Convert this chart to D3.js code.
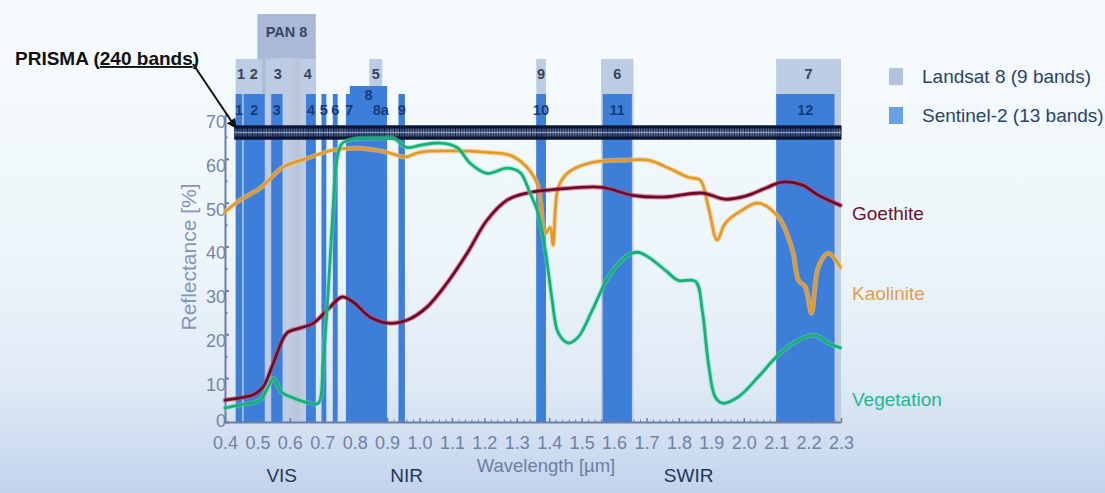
<!DOCTYPE html>
<html><head><meta charset="utf-8">
<script src="https://cdn.jsdelivr.net/npm/d3@7"></script>
<style>html,body{margin:0;padding:0;overflow:hidden;background:#eef6fb}</style>
</head><body><svg id="c" width="1105" height="493"></svg>
<script>
// ---------- DATA ----------
const xTicks = [0.4,0.5,0.6,0.7,0.8,0.9,1.0,1.1,1.2,1.3,1.4,1.5,1.6,1.7,1.8,1.9,2.0,2.1,2.2,2.3];
const yTicks = [0,10,20,30,40,50,60,70];

const goeWl  = [0.40,0.446,0.487,0.518,0.549,0.591,0.631,0.672,0.715,0.761,0.796,0.848,0.91,0.961,1.023,1.085,1.147,1.208,1.27,1.332,1.428,1.563,1.656,1.758,1.872,1.943,2.005,2.067,2.119,2.181,2.23,2.298];
const goeVal = [5.0,5.5,6.2,8,13.4,20.3,21.4,22.5,25.5,28.5,27.3,23.9,22.5,23.2,26.2,31.7,38.5,46,50.6,52.2,53.1,53.5,51.7,51.3,52.2,50.8,51.5,53.3,54.7,54,51.7,49.4];

const kaoWl  = [0.40,0.446,0.508,0.579,0.653,0.733,0.817,0.90,0.956,1.00,1.104,1.208,1.28,1.326,1.363,1.388,1.403,1.412,1.428,1.459,1.533,1.635,1.706,1.768,1.829,1.866,1.891,1.918,1.943,1.995,2.045,2.107,2.15,2.169,2.19,2.209,2.23,2.261,2.298];
const kaoVal = [47.9,50.6,53.3,58.1,60.1,62.0,62.4,61.5,60.4,61.5,61.8,61.5,60.8,58.5,54.4,43,44.4,40.3,53.5,56.9,59.2,59.7,59.7,57.9,55.8,55.1,49,41.5,45.3,48.3,49.9,46.7,39.2,32.3,30.8,24.8,35.3,38.5,35.3];

const vegWl  = [0.40,0.446,0.508,0.533,0.549,0.575,0.61,0.662,0.688,0.703,0.718,0.733,0.745,0.761,0.796,0.878,0.919,0.961,1.002,1.064,1.116,1.156,1.208,1.27,1.31,1.341,1.366,1.388,1.409,1.428,1.459,1.49,1.533,1.582,1.635,1.672,1.706,1.758,1.798,1.851,1.872,1.891,1.912,1.934,1.983,2.045,2.107,2.169,2.221,2.261,2.298];
const vegVal = [3.2,3.9,5,8,10,6.8,5.5,4.3,4.3,14.1,29.4,48.3,59.7,63.5,64.5,64.7,64.7,62.6,63.1,63.6,62.6,59,56.7,57.9,56.9,52.2,47.6,39.2,27.8,20.3,18,19.4,25.5,33,37.6,38.7,37.6,34.6,32.3,32.1,25.5,13.4,5.7,4.3,5.7,10.3,15.3,18.7,19.8,18,16.9];

const landsatLabels = ["1","2","3","4","5","9","6","7"];
const landsatStart  = [0.433,0.450,0.525,0.630,0.845,1.360,1.560,2.100];
const landsatEnd    = [0.453,0.515,0.600,0.680,0.885,1.390,1.660,2.300];
const panLabel = "PAN 8", panStart = 0.500, panEnd = 0.680;

const s2Labels = ["1","2","3","4","5","6","7","8","8a","9","10","11","12"];
const s2Start  = [0.433,0.4575,0.5425,0.650,0.6975,0.7325,0.773,0.785,0.855,0.935,1.360,1.565,2.100];
const s2End    = [0.453,0.5225,0.5775,0.680,0.7125,0.7475,0.793,0.900,0.875,0.955,1.390,1.655,2.280];

const prismaBands = 240, prismaStart = 0.43, prismaEnd = 2.30;
const prismaLow = 64.4, prismaHigh = 67.6;

const seriesNames = ["Goethite","Kaolinite","Vegetation"];
const legendNames = ["Landsat 8 (9 bands)","Sentinel-2 (13 bands)"];
const regionNames = ["VIS","NIR","SWIR"];
const regionCenters = [0.575, 0.96, 1.83];

// ---------- SETUP ----------
const FONT = "'Liberation Sans', Arial, sans-serif";
const svg = d3.select("#c");
const x = d3.scaleLinear().domain([0.4, 2.3]).range([225, 841]);
const y = d3.scaleLinear().domain([0, 70]).range([422, 115]);

const defs = svg.append("defs");
const bg = defs.append("linearGradient").attr("id","bg").attr("x1",0).attr("y1",0).attr("x2",0).attr("y2",1);
[[0,"#f6fbfd"],[0.5,"#eef6fb"],[0.78,"#dfeaf6"],[1,"#c3d3ec"]].forEach(s=>bg.append("stop").attr("offset",s[0]).attr("stop-color",s[1]));
const pan = defs.append("linearGradient").attr("id","pan").attr("x1",0).attr("y1",0).attr("x2",1).attr("y2",0);
[[0,"#a9b7d3"],[0.5,"#c3cde0"],[1,"#a9b7d3"]].forEach(s=>pan.append("stop").attr("offset",s[0]).attr("stop-color",s[1]));
defs.append("marker").attr("id","arr").attr("viewBox","0 0 10 10").attr("refX",9).attr("refY",5)
  .attr("markerWidth",5).attr("markerHeight",5).attr("orient","auto")
  .append("path").attr("d","M0,0 L10,5 L0,10 z").attr("fill","#111");

svg.append("rect").attr("width",1105).attr("height",493).attr("fill","url(#bg)");

// ---------- BANDS ----------
const gB = svg.append("g");
gB.append("rect").attr("x",x(panStart)).attr("y",14).attr("width",x(panEnd)-x(panStart)).attr("height",44).attr("fill","#a9b9d6");
gB.append("rect").attr("x",x(panStart)).attr("y",58).attr("width",x(panEnd)-x(panStart)).attr("height",422-58).attr("fill","url(#pan)");
gB.append("text").attr("x",(x(panStart)+x(panEnd))/2).attr("y",37).attr("text-anchor","middle")
  .attr("font-family",FONT).attr("font-size",14.5).attr("font-weight","bold").attr("fill","#3a4560").text(panLabel);
landsatLabels.forEach((lab,i)=>{
  gB.append("rect").attr("x",x(landsatStart[i])).attr("y",59).attr("width",x(landsatEnd[i])-x(landsatStart[i])).attr("height",422-59)
    .attr("fill","#bccce5");
});
s2Labels.forEach((lab,i)=>{
  const top = lab==="8" ? 86 : 94;
  gB.append("rect").attr("x",x(s2Start[i])).attr("y",top).attr("width",x(s2End[i])-x(s2Start[i])).attr("height",422-top)
    .attr("fill","#3d7fd8");
});
landsatLabels.forEach((lab,i)=>{
  gB.append("text").attr("x",(x(landsatStart[i])+x(landsatEnd[i]))/2 + (i<2?2:0)).attr("y",78.5).attr("text-anchor","middle")
    .attr("font-family",FONT).attr("font-size",14.5).attr("font-weight","bold").attr("fill","#3a4258").text(lab);
});
s2Labels.forEach((lab,i)=>{
  const ty = lab==="8" ? 100 : 114.5;
  const dx = lab==="8a" ? 5 : 0;
  gB.append("text").attr("x",(x(s2Start[i])+x(s2End[i]))/2+dx).attr("y",ty).attr("text-anchor","middle")
    .attr("font-family",FONT).attr("font-size",14.5).attr("font-weight","bold").attr("fill","#173a78").text(lab);
});

// ---------- PRISMA STRIP ----------
const gP = svg.append("g");
const py0 = y(prismaHigh), py1 = y(prismaLow);
gP.append("rect").attr("x",x(prismaStart)).attr("y",py0).attr("width",x(prismaEnd)-x(prismaStart)).attr("height",py1-py0)
  .attr("fill","#3a4a75").attr("opacity",0.8);
const step = (prismaEnd-prismaStart)/(prismaBands-1);
for(let k=0;k<prismaBands;k++){
  const wl = prismaStart + k*step;
  gP.append("line").attr("x1",x(wl)).attr("x2",x(wl)).attr("y1",py0).attr("y2",py1)
    .attr("stroke", k%2? "#0c1634":"#1b2850").attr("stroke-width",1.1);
}
gP.append("line").attr("x1",x(prismaStart)).attr("x2",x(prismaEnd)).attr("y1",(py0+py1)/2).attr("y2",(py0+py1)/2)
  .attr("stroke","#a8b5d2").attr("stroke-width",1.5).attr("opacity",0.75);
[py0+1.5, py1-1.5].forEach(yy=>gP.append("line").attr("x1",x(prismaStart)).attr("x2",x(prismaEnd)).attr("y1",yy).attr("y2",yy)
  .attr("stroke","#0b1533").attr("stroke-width",3));

// ---------- AXES ----------
const axisColor = "#6b7fa6";
const gx = svg.append("g").attr("transform","translate(0,422)")
  .call(d3.axisBottom(x).tickValues(xTicks).tickFormat(d3.format(".1f")).tickSize(-4).tickSizeOuter(0));
gx.select(".domain").attr("stroke",axisColor).attr("stroke-width",2);
gx.selectAll(".tick line").attr("stroke",axisColor).attr("stroke-width",1.5);
gx.selectAll("text").attr("y",27).attr("dy",null).attr("font-family",FONT).attr("font-size",18).attr("fill","#6f81a4");
const minor = d3.range(40,116).map(v=>v/50).filter(v=>Math.abs(v*10-Math.round(v*10))>1e-6);
svg.append("g").attr("transform","translate(0,422)")
  .call(d3.axisBottom(x).tickValues(minor).tickFormat("").tickSize(-2.5).tickSizeOuter(0))
  .call(g=>{g.select(".domain").remove(); g.selectAll("line").attr("stroke",axisColor);});

const gy = svg.append("g").attr("transform","translate(225,0)")
  .call(d3.axisLeft(y).tickValues(yTicks).tickSize(-4).tickSizeOuter(0));
gy.select(".domain").attr("stroke",axisColor).attr("stroke-width",2);
gy.selectAll(".tick line").attr("stroke",axisColor).attr("stroke-width",2);
gy.selectAll("text").attr("x",1).attr("y",d=>d===0?-1.5:6).attr("dy","0.35em").attr("font-family",FONT).attr("font-size",18).attr("fill","#7486a8");
svg.append("g").attr("transform","translate(225,0)")
  .call(d3.axisLeft(y).tickValues(d3.range(5,70,10)).tickFormat("").tickSize(-2.5).tickSizeOuter(0))
  .call(g=>{g.select(".domain").remove(); g.selectAll("line").attr("stroke",axisColor).attr("stroke-width",2);});

// ---------- CURVES ----------
const line = d3.line().x(d=>x(d[0])).y(d=>y(d[1])).curve(d3.curveCatmullRom.alpha(0.5));
const zip = (a,b)=>a.map((v,i)=>[v,b[i]]);
const gC = svg.append("g").attr("fill","none").attr("stroke-linejoin","round").attr("stroke-linecap","round");
gC.append("path").attr("d",line(zip(kaoWl,kaoVal))).attr("stroke","#f6c774").attr("stroke-width",5).attr("opacity",0.6);
gC.append("path").attr("d",line(zip(kaoWl,kaoVal))).attr("stroke","#e39a2c").attr("stroke-width",2.8);
gC.append("path").attr("d",line(zip(goeWl,goeVal))).attr("stroke","#e0465a").attr("stroke-width",5).attr("opacity",0.55);
gC.append("path").attr("d",line(zip(goeWl,goeVal))).attr("stroke","#6a0c2c").attr("stroke-width",2.8);
gC.append("path").attr("d",line(zip(vegWl,vegVal))).attr("stroke","#5fe0b0").attr("stroke-width",5).attr("opacity",0.45);
gC.append("path").attr("d",line(zip(vegWl,vegVal))).attr("stroke","#1aae78").attr("stroke-width",2.8);

// ---------- LABELS ----------
const T = (xx,yy,str,size,fill,anchor="start",weight="normal")=>
  svg.append("text").attr("x",xx).attr("y",yy).attr("text-anchor",anchor).attr("font-family",FONT)
    .attr("font-size",size).attr("font-weight",weight).attr("fill",fill).text(str);

const seriesColors = ["#6a1232","#e2a045","#22b88e"];
const seriesY = [220,300,406];
seriesNames.forEach((n,i)=>T(852,seriesY[i],n,19,seriesColors[i]));

regionNames.forEach((n,i)=>T(x(regionCenters[i]),482,n,19,"#1f3658","middle"));
T(546,472,"Wavelength [µm]",18.5,"#6b7ea3","middle");
svg.append("text").attr("transform","translate(188,257) rotate(-90)").attr("text-anchor","middle").attr("dominant-baseline","central")
  .attr("font-family",FONT).attr("font-size",21).attr("fill","#8595b8").text("Reflectance [%]");

const legColors = ["#b4c3dd","#6aa0e6"];
legendNames.forEach((n,i)=>{
  svg.append("rect").attr("x",889).attr("y",68+i*39).attr("width",14).attr("height",17).attr("fill",legColors[i]);
  T(922,83+i*39,n,19,"#2a4468");
});

const pt = svg.append("text").attr("x",15).attr("y",65).attr("font-family",FONT).attr("font-size",19).attr("font-weight","bold").attr("fill","#111");
pt.append("tspan").text("PRISMA (");
pt.append("tspan").attr("text-decoration","underline").text("240 bands");
pt.append("tspan").text(")");
svg.append("line").attr("x1",193).attr("y1",64).attr("x2",236).attr("y2",128).attr("stroke","#111").attr("stroke-width",2).attr("marker-end","url(#arr)");
</script></body></html>
